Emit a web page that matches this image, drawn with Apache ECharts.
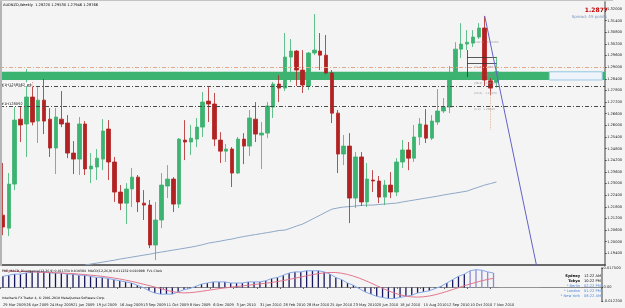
<!DOCTYPE html>
<html>
<head>
<meta charset="utf-8">
<script src="https://cdn.jsdelivr.net/npm/echarts@6/dist/echarts.min.js"></script>
<style>
html, body { margin: 0; padding: 0; background: #f4f4f4; }
#audnzd-chart { width: 625px; height: 308px; }
.frame-left { position: absolute; left: 0; top: 0; width: 2px; height: 266px; background: #b4b4b4; }
.frame-top { position: absolute; left: 0; top: 0; width: 613px; height: 1px; background: #c4c4c4; }
</style>
</head>
<body>
<div id="audnzd-chart"></div>
<div class="frame-left"></div>
<div class="frame-top"></div>
<script>
var chart = echarts.init(document.getElementById('audnzd-chart'));

// weekly bars from 29 Mar 2009, plus empty slots on the right (chart shift)
var monthNames = ['Jan', 'Feb', 'Mar', 'Apr', 'May', 'Jun', 'Jul', 'Aug', 'Sep', 'Oct', 'Nov', 'Dec'];
var firstWeek = Date.UTC(2009, 2, 29);
var slotCount = 103;
var lastBar = 84;

var opens = [1.2137,1.2070,1.2297,1.2632,1.2607,1.2746,1.2622,1.2730,1.2632,1.2483,
    1.2632,1.2612,1.2457,1.2426,1.2607,1.2375,1.2385,1.2426,1.2581,1.2411,
    1.2256,1.2199,1.2272,1.2333,1.2199,1.2189,1.1983,1.2112,1.2287,1.2323,
    1.2194,1.2524,1.2514,1.2529,1.2591,1.2725,1.2710,1.2524,1.2467,1.2478,
    1.2354,1.2529,1.2493,1.2632,1.2550,1.2560,1.2694,1.2813,1.2792,1.2952,
    1.2983,1.2885,1.2803,1.2973,1.2983,1.2962,1.2870,1.2663,1.2452,1.2493,
    1.2225,1.2437,1.2205,1.2318,1.2313,1.2230,1.2292,1.2256,1.2411,1.2473,
    1.2431,1.2540,1.2602,1.2534,1.2617,1.2674,1.2694,1.2844,1.2993,1.3019,
    1.3024,1.3055,1.3102,1.2830,1.2822];
var closes = [1.2076,1.2297,1.2627,1.2602,1.2746,1.2617,1.2730,1.2622,1.2483,1.2643,
    1.2607,1.2457,1.2426,1.2607,1.2375,1.2390,1.2431,1.2571,1.2411,1.2256,
    1.2199,1.2272,1.2333,1.2205,1.2189,1.1983,1.2112,1.2292,1.2323,1.2194,
    1.2529,1.2514,1.2534,1.2591,1.2720,1.2710,1.2529,1.2467,1.2478,1.2354,
    1.2529,1.2493,1.2638,1.2555,1.2560,1.2700,1.2813,1.2792,1.2952,1.2983,
    1.2885,1.2808,1.2973,1.2988,1.2962,1.2870,1.2663,1.2452,1.2493,1.2225,
    1.2437,1.2205,1.2323,1.2313,1.2230,1.2292,1.2256,1.2411,1.2473,1.2431,
    1.2540,1.2607,1.2534,1.2622,1.2674,1.2694,1.2844,1.2993,1.3019,1.3029,
    1.3055,1.3102,1.2834,1.2792,1.2877];
var lows = [1.2034,1.2029,1.2266,1.2514,1.2437,1.2600,1.2509,1.2555,1.2437,1.2349,
    1.2591,1.2431,1.2349,1.2344,1.2344,1.2302,1.2318,1.2369,1.2318,1.2205,
    1.2163,1.2091,1.2179,1.2153,1.2112,1.1967,1.1905,1.2070,1.2225,1.2153,
    1.2174,1.2421,1.2447,1.2488,1.2540,1.2617,1.2493,1.2406,1.2411,1.2282,
    1.2349,1.2400,1.2442,1.2514,1.2375,1.2534,1.2638,1.2720,1.2777,1.2823,
    1.2803,1.2767,1.2782,1.2962,1.2885,1.2864,1.2612,1.2354,1.2395,1.2096,
    1.2174,1.2185,1.2179,1.2256,1.2199,1.2189,1.2225,1.2235,1.2380,1.2369,
    1.2411,1.2498,1.2509,1.2524,1.2602,1.2663,1.2663,1.2834,1.2947,1.2988,
    1.3004,1.3045,1.2803,1.2756,1.2795];
var highs = [1.2406,1.2354,1.2694,1.2715,1.2890,1.2823,1.2797,1.2839,1.2689,1.2689,
    1.2777,1.2653,1.2519,1.2643,1.2622,1.2457,1.2478,1.2632,1.2627,1.2437,
    1.2292,1.2302,1.2380,1.2344,1.2266,1.2215,1.2205,1.2354,1.2395,1.2333,
    1.2534,1.2627,1.2602,1.2638,1.2772,1.2797,1.2767,1.2565,1.2504,1.2488,
    1.2540,1.2560,1.2679,1.2720,1.2617,1.2720,1.2823,1.2859,1.3076,1.3045,
    1.2988,1.2988,1.2978,1.3174,1.3076,1.3066,1.2885,1.2679,1.2550,1.2560,
    1.2462,1.2462,1.2406,1.2369,1.2339,1.2318,1.2359,1.2431,1.2524,1.2514,
    1.2602,1.2638,1.2684,1.2653,1.2787,1.2741,1.2906,1.3029,1.3127,1.3091,
    1.3091,1.3127,1.3164,1.2844,1.2953];

// long moving average, enters the window from below around bar 14
var maValues = [null,null,null,null,null,null,null,null,null,null,null,null,null,null,
    1.1880,1.1885,1.1890,1.1895,1.1900,1.1905,1.1911,1.1916,1.1921,1.1926,
    1.1931,1.1936,1.1942,1.1947,1.1952,1.1957,1.1962,1.1967,1.1972,1.1978,
    1.1985,1.1993,1.1998,1.2003,1.2009,1.2014,1.2021,1.2027,1.2032,1.2037,
    1.2042,1.2047,1.2052,1.2058,1.2060,1.2070,1.2081,1.2091,1.2106,1.2122,
    1.2137,1.2153,1.2168,1.2174,1.2179,1.2181,1.2184,1.2187,1.2189,1.2189,
    1.2192,1.2194,1.2197,1.2199,1.2205,1.2210,1.2215,1.2220,1.2225,1.2230,
    1.2235,1.2241,1.2246,1.2251,1.2256,1.2261,1.2272,1.2282,1.2292,1.2300,1.2308];

var macdMain = [0.010,0.011,0.012,0.012,0.013,0.014,0.014,0.014,0.013,0.013,
    0.013,0.012,0.012,0.011,0.011,0.010,0.009,0.009,0.008,0.007,
    0.006,0.005,0.004,0.002,0.000,-0.003,-0.005,-0.006,-0.006,-0.006,
    -0.004,-0.002,-0.001,0.001,0.003,0.004,0.005,0.005,0.005,0.004,
    0.004,0.004,0.005,0.005,0.005,0.006,0.008,0.009,0.011,0.013,
    0.014,0.014,0.015,0.015,0.015,0.014,0.012,0.009,0.007,0.004,
    0.002,-0.001,-0.004,-0.006,-0.008,-0.009,-0.010,-0.010,-0.009,-0.008,
    -0.007,-0.005,-0.004,-0.003,-0.001,0.001,0.004,0.007,0.010,0.012,
    0.015,0.016,0.0155,0.014,0.013];
var macdSignal = [0.0150,0.0148,0.0146,0.0144,0.0142,0.0140,0.0138,0.0136,0.0134,0.0132,
    0.0130,0.0127,0.0124,0.0120,0.0116,0.0111,0.0106,0.0100,0.0093,0.0085,
    0.0076,0.0066,0.0055,0.0043,0.0030,0.0017,0.0004,-0.0010,-0.0025,-0.0038,
    -0.0046,-0.0049,-0.0047,-0.0042,-0.0035,-0.0027,-0.0019,-0.0011,-0.0004,0.0002,
    0.0008,0.0014,0.0020,0.0026,0.0032,0.0038,0.0045,0.0053,0.0062,0.0072,
    0.0083,0.0094,0.0105,0.0115,0.0124,0.0131,0.0135,0.0134,0.0128,0.0117,
    0.0102,0.0084,0.0063,0.0040,0.0016,-0.0008,-0.0030,-0.0050,-0.0066,-0.0078,
    -0.0085,-0.0087,-0.0084,-0.0077,-0.0066,-0.0052,-0.0036,-0.0019,-0.0002,0.0015,
    0.0031,0.0046,0.0060,0.0072,0.0082];
var macdTicks = [-0.0122, 0, 0.0175];

// objects drawn on the chart
var bandLevels = [1.2834, 1.2876];
var lineLevels = [1.2901, 1.2828, 1.2720];
var lineNames = ['', '#1H1258562_wk', '#1H128092'];
var fibLevels = [100, 61.8, 50, 38.2, 23.6, 0];
var fibPrices = [1.3029, 1.2897, 1.2857, 1.2816, 1.2765, 1.2684];
var fibBox = [1.2988, 1.2952, 1.2921, 1.2849];
var trendLine = [[82, 1.3164], [91, 1.1851]];
var bidPrice = 1.28766;
var rectLabelPrice = 1.28570;

var clockCities = ['Sydney', 'Tokyo', '* Berlin', '* London', '* New York'];
var clockTimes = ['12:22 AM', '10:22 PM', '02:22 PM', '01:22 PM', '08:22 AM'];

var weeks = [];
for (var i = 0; i < slotCount; i++) {
    var d = new Date(firstWeek + i * 7 * 86400000);
    weeks.push(d.getUTCDate() + ' ' + monthNames[d.getUTCMonth()] + ' ' + d.getUTCFullYear());
}

function candleData() {
    var out = [];
    for (var i = 0; i < opens.length; i++) {
        out.push([opens[i], closes[i], lows[i], highs[i]]);
    }
    return out;
}

function histData() {
    var out = [];
    for (var i = 0; i < macdMain.length; i++) {
        out.push({
            value: macdMain[i],
            itemStyle: { color: i >= 80 ? '#8c8cd2' : '#16165e' }
        });
    }
    return out;
}

function levelLines() {
    var out = [];
    for (var i = 0; i < lineLevels.length; i++) {
        out.push({
            yAxis: lineLevels[i],
            lineStyle: {
                color: i == 0 ? '#e2a888' : '#4a4a4a',
                width: 1,
                type: [4, 2, 1, 2]
            },
            label: {
                show: lineNames[i] != '',
                formatter: lineNames[i],
                position: 'insideStartTop',
                distance: 0,
                fontSize: 3.6,
                fontFamily: 'DejaVu Sans',
                color: '#000',
                backgroundColor: '#ffffff',
                padding: [0, 1]
            }
        });
    }
    // price tags on the axis
    out.push({
        yAxis: bidPrice,
        lineStyle: { opacity: 0 },
        label: { show: true, position: 'end', formatter: bidPrice.toFixed(5), fontSize: 3.6, color: '#fff', backgroundColor: '#3a78d0', padding: [1, 2], distance: 1 }
    });
    out.push({
        yAxis: rectLabelPrice,
        lineStyle: { opacity: 0 },
        label: { show: true, position: 'end', formatter: rectLabelPrice.toFixed(5), fontSize: 3.6, color: '#fff', backgroundColor: '#1a1a1a', padding: [1, 2], distance: 1 }
    });
    return out;
}

function fibLabelData() {
    var out = [];
    for (var i = 0; i < fibLevels.length; i++) {
        out.push({
            value: [80, fibPrices[i]],
            label: { formatter: '(' + fibLevels[i].toFixed(1) + ') - ' + fibPrices[i].toFixed(5) }
        });
    }
    return out;
}

function txt(x, y, s, size, color, align, weight) {
    return {
        type: 'text',
        x: x,
        y: y,
        z: 100,
        silent: true,
        style: {
            text: s,
            fontSize: size,
            fontFamily: 'DejaVu Sans',
            fontWeight: weight || 'normal',
            fill: color,
            align: align || 'left',
            verticalAlign: 'middle'
        }
    };
}

function graphicTexts() {
    var g = [];
    g.push(txt(3, 5, 'AUDNZD,Weekly  1.28220 1.29530 1.27946 1.28766', 3.6, '#000'));
    g.push(txt(608, 10, '1.2877', 6, '#c80000', 'right', 'bold'));
    g.push(txt(607, 17, 'Spread: 49 points', 4, '#7a98c0', 'right'));
    g.push(txt(2, 271, 'FXE_MACD_Divergence(12,26,9) 0.011334 0.010584  MACD(12,26,9) 0.011232 0.010998  FVL Clock', 3.2, '#000'));
    g.push(txt(2, 298, 'Interbank FX Trader 4, \u00a9 2001-2010 MetaQuotes Software Corp.', 3.2, '#000'));
    for (var i = 0; i < clockCities.length; i++) {
        var c = i < 2 ? '#000' : '#4a86d8';
        var y = 276 + i * 5;
        g.push(txt(580, y, clockCities[i], 3.6, c, 'right', i < 2 ? 'bold' : 'normal'));
        g.push(txt(584, y, clockTimes[i], 3.6, c, 'left'));
    }
    return g;
}

function dateTick(idx) {
    return idx % 4 == 0 && idx <= lastBar;
}

chart.setOption({
    animation: false,
    backgroundColor: '#f4f4f4',
    grid: [
        { left: -2, right: 12, top: 2, height: 263 },
        { left: -2, right: 12, top: 268, height: 33 }
    ],
    xAxis: [{
        type: 'category',
        gridIndex: 0,
        data: weeks,
        axisLine: { show: true, lineStyle: { color: '#3c3c3c', width: 1.5 } },
        axisTick: { show: false },
        axisLabel: { show: false },
        splitLine: { show: false }
    }, {
        type: 'category',
        gridIndex: 1,
        data: weeks,
        axisLine: { show: true, lineStyle: { color: '#8a8a8a', width: 1 } },
        axisTick: { show: true, interval: dateTick, length: 1.5, lineStyle: { color: '#606060' } },
        axisLabel: {
            interval: dateTick,
            fontSize: 3.6,
            fontFamily: 'DejaVu Sans',
            color: '#202020',
            margin: 2,
            align: 'left'
        },
        splitLine: { show: false }
    }],
    yAxis: [{
        type: 'value',
        gridIndex: 0,
        position: 'right',
        min: 1.188,
        max: 1.3236,
        interval: 0.006,
        axisLine: { show: true, lineStyle: { color: '#9a9a9a', width: 2 } },
        axisTick: { show: true, length: 1.5, lineStyle: { color: '#404040' } },
        axisLabel: {
            fontSize: 3.6,
            fontFamily: 'DejaVu Sans',
            color: '#202020',
            margin: 2,
            showMinLabel: false,
            showMaxLabel: false,
            formatter: function(v) { return v.toFixed(5); }
        },
        splitLine: { show: false }
    }, {
        type: 'value',
        gridIndex: 1,
        position: 'right',
        min: -0.0122,
        max: 0.0175,
        axisLine: { show: true, lineStyle: { color: '#9a9a9a', width: 2 } },
        axisTick: { show: true, length: 1.5, customValues: macdTicks, lineStyle: { color: '#404040' } },
        axisLabel: {
            fontSize: 3.6,
            fontFamily: 'DejaVu Sans',
            color: '#202020',
            margin: 2,
            customValues: macdTicks,
            formatter: function(v) { return v == 0 ? '0.00' : v.toFixed(6); }
        },
        splitLine: { show: false }
    }],
    graphic: graphicTexts(),
    series: [{
        // band, horizontal lines and tags sit under the candles
        name: 'objects',
        type: 'line',
        xAxisIndex: 0,
        yAxisIndex: 0,
        data: [],
        z: 1,
        silent: true,
        markArea: {
            silent: true,
            data: [
                [{ yAxis: bandLevels[0], itemStyle: { color: '#3cb371' } }, { yAxis: bandLevels[1] }],
                [{ xAxis: 93, yAxis: bandLevels[0], itemStyle: { color: '#eef4fa', borderColor: '#9ccbe8', borderWidth: 1 } },
                 { xAxis: 102, yAxis: bandLevels[1] }]
            ]
        },
        markLine: {
            silent: true,
            symbol: 'none',
            data: levelLines()
        }
    }, {
        name: 'MA',
        type: 'line',
        xAxisIndex: 0,
        yAxisIndex: 0,
        data: maValues,
        symbol: 'none',
        z: 2,
        lineStyle: { color: '#8ea8c6', width: 1 }
    }, {
        name: 'AUDNZD',
        type: 'candlestick',
        xAxisIndex: 0,
        yAxisIndex: 0,
        data: candleData(),
        barWidth: 4,
        z: 3,
        itemStyle: {
            color: '#3cb371',
            color0: '#b22222',
            borderColor: '#3cb371',
            borderColor0: '#b22222',
            borderWidth: 0.8
        },
        markLine: {
            silent: true,
            symbol: 'none',
            lineStyle: { color: '#303030', width: 0.8, type: 'solid' },
            label: { show: false },
            data: [
                [{ coord: [79, fibBox[1]] }, { coord: [84, fibBox[1]] }],
                [{ coord: [79, fibBox[2]] }, { coord: [84, fibBox[2]] }],
                [{ coord: [79, fibBox[0]] }, { coord: [79, fibBox[3]] }],
                [{ coord: [83, 1.2772], lineStyle: { color: '#e2a888', type: 'dotted' } },
                 { coord: [83, 1.2576] }]
            ]
        }
    }, {
        name: 'fib',
        type: 'scatter',
        xAxisIndex: 0,
        yAxisIndex: 0,
        data: fibLabelData(),
        symbolSize: 0,
        z: 4,
        silent: true,
        label: {
            show: true,
            position: 'right',
            distance: 1,
            fontSize: 2.8,
            fontFamily: 'DejaVu Sans',
            color: '#8c8c8c'
        }
    }, {
        name: 'trend',
        type: 'line',
        xAxisIndex: 0,
        yAxisIndex: 0,
        data: trendLine,
        symbol: 'none',
        z: 5,
        clip: true,
        lineStyle: { color: '#6262c8', width: 1 }
    }, {
        name: 'MACD',
        type: 'bar',
        xAxisIndex: 1,
        yAxisIndex: 1,
        data: histData(),
        barWidth: 1.3,
        z: 2,
        markLine: {
            silent: true,
            symbol: 'none',
            label: { show: false },
            lineStyle: { color: '#a0a0a0', type: 'dotted', width: 1 },
            data: [[{ coord: [85, 0] }, { coord: [92, 0] }]]
        }
    }, {
        name: 'MACD line',
        type: 'line',
        xAxisIndex: 1,
        yAxisIndex: 1,
        data: macdMain,
        symbol: 'none',
        z: 3,
        lineStyle: { color: '#86a8e6', width: 1 }
    }, {
        name: 'Signal',
        type: 'line',
        xAxisIndex: 1,
        yAxisIndex: 1,
        data: macdSignal,
        symbol: 'none',
        z: 4,
        lineStyle: { color: '#e2788e', width: 1 }
    }]
});
</script>
</body>
</html>
